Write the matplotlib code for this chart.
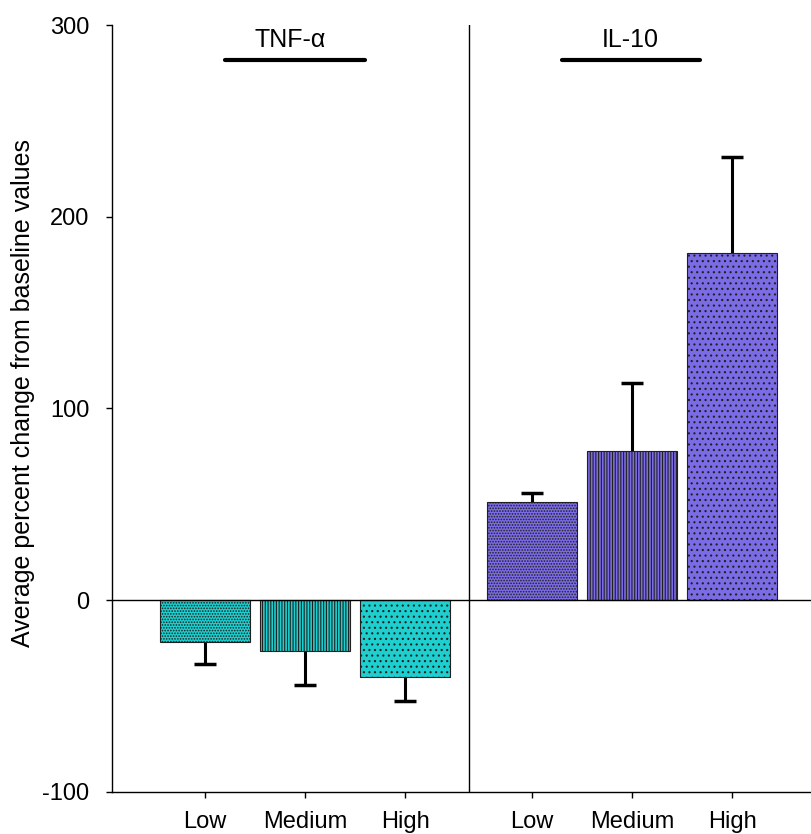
import matplotlib
matplotlib.use("Agg")
import matplotlib.pyplot as plt
import numpy as np

plt.rcParams['font.family'] = ['Liberation Sans', 'DejaVu Sans']
plt.rcParams['hatch.linewidth'] = 0.8

levels = ["Low", "Medium", "High"]
groups = ["TNF-α", "IL-10"]
tnf_values = [-22, -26.5, -40]
tnf_err = [11, 17.5, 12.5]
il10_values = [51, 78, 181]
il10_err = [5, 35.5, 50]
y_ticks = [-100, 0, 100, 200, 300]

tnf_color = "#1ECFCF"
il10_color = "#7B6CE6"
hatches = ["......", "||||||", "..."]

fig = plt.figure(figsize=(8.12, 8.34), dpi=100)
ax = fig.add_axes([0.138, 0.0504, 0.862, 0.9196])

tnf_x = np.arange(3)
il10_x = np.arange(3) + 3.27
width = 0.9
cap = 0.11


def draw(xs, vals, errs, color):
    for x, v, e, h in zip(xs, vals, errs, hatches):
        ax.bar(x, v, width, color=color, edgecolor="#202020", linewidth=0.8, hatch=h, zorder=2)
        end = v + np.sign(v) * e
        ax.vlines(x, v, end, color="black", linewidth=2.2, zorder=1)
        ax.hlines(end, x - cap, x + cap, color="black", linewidth=2.5, zorder=3)


draw(tnf_x, tnf_values, tnf_err, tnf_color)
draw(il10_x, il10_values, il10_err, il10_color)

ax.axhline(0, color="black", linewidth=1, zorder=4)
ax.axvline(2.64, color="black", linewidth=1)

ax.set_xlim(-0.93, 6.07)
ax.set_ylim(-100, 300)
ax.set_yticks(y_ticks)
ax.set_yticklabels([str(t) for t in y_ticks], fontsize=17)
ax.set_xticks(list(tnf_x) + list(il10_x))
ax.set_xticklabels(levels + levels, fontsize=17)
ax.tick_params(axis="both", direction="out", length=4.5, width=1)
ax.tick_params(axis="x", pad=9)
ax.tick_params(axis="y", pad=12)
for s in ["top", "right"]:
    ax.spines[s].set_visible(False)
ax.spines["left"].set_linewidth(1)
ax.spines["bottom"].set_linewidth(1)

ax.set_ylabel("Average percent change from baseline values", fontsize=18)
ax.yaxis.set_label_coords(-0.11, 0.52)

ax.plot([0.2, 1.6], [282, 282], color="black", linewidth=3, solid_capstyle="round")
ax.plot([3.57, 4.95], [282, 282], color="black", linewidth=3, solid_capstyle="round")
ax.text(0.85, 286, groups[0], ha="center", va="bottom", fontsize=18)
ax.text(4.25, 286, groups[1], ha="center", va="bottom", fontsize=18)

fig.savefig("out.png", dpi=100)
